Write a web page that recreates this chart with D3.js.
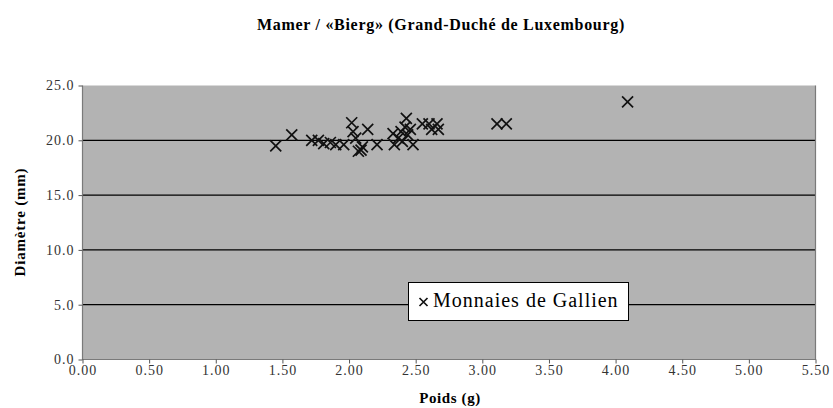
<!DOCTYPE html>
<html>
<head>
<meta charset="utf-8">
<script src="https://cdn.jsdelivr.net/npm/d3@7"></script>
<style>
  body { margin: 0; background: #fff; }
</style>
</head>
<body>
<div id="app"></div>
<script>
// weights (g) and diameters (mm) of the coins
const poids = [1.45, 1.57, 1.72, 1.77, 1.81, 1.86, 1.90, 1.96, 2.02, 2.03, 2.05, 2.07, 2.09, 2.10,
  2.14, 2.21, 2.33, 2.34, 2.37, 2.39, 2.40, 2.42, 2.43, 2.44, 2.46, 2.48, 2.55, 2.60, 2.62, 2.66,
  2.67, 3.11, 3.18, 4.09];
const diametre = [19.5, 20.5, 20.0, 20.0, 19.7, 19.8, 19.6, 19.6, 21.6, 20.8, 20.2, 19.0, 19.1, 19.4,
  21.0, 19.6, 20.6, 19.6, 20.2, 20.8, 19.9, 21.2, 22.0, 20.5, 21.0, 19.6, 21.5, 21.5, 21.0, 21.5,
  21.0, 21.5, 21.5, 23.5];
const xTicks = [0, 0.5, 1, 1.5, 2, 2.5, 3, 3.5, 4, 4.5, 5, 5.5];
const yTicks = [0, 5, 10, 15, 20, 25];
const seriesName = "Monnaies de Gallien";
const title = "Mamer / «Bierg» (Grand-Duché de Luxembourg)";

const W = 833, H = 408;
const pLeft = 82.5, pRight = 815.5, pTop = 85.5, pBottom = 359.5;
const FONT = "'Liberation Serif', 'Times New Roman', serif";

const svg = d3.select("#app").append("svg")
  .attr("width", W)
  .attr("height", H);

const x = d3.scaleLinear([0, 5.5], [pLeft, pRight]);
const y = d3.scaleLinear([0, 25], [pBottom, pTop]);

// plot area
svg.append("rect")
  .attr("x", pLeft).attr("y", pTop)
  .attr("width", pRight - pLeft).attr("height", pBottom - pTop)
  .attr("fill", "#b3b3b3");

// gridlines
svg.append("g").selectAll("line")
  .data(yTicks.filter(d => d > 0 && d < 25))
  .join("line")
  .attr("x1", pLeft).attr("x2", pRight)
  .attr("y1", d => y(d)).attr("y2", d => y(d))
  .attr("stroke", "#000").attr("stroke-width", 1.2);

// plot border (left, right, bottom)
svg.append("path")
  .attr("d", `M${pLeft},${pTop}V${pBottom}H${pRight}V${pTop}`)
  .attr("fill", "none").attr("stroke", "#7a7a7a").attr("stroke-width", 1.2);

// axes
const xAxis = svg.append("g")
  .attr("transform", `translate(0,${pBottom})`)
  .call(d3.axisBottom(x).tickValues(xTicks).tickFormat(d3.format(".2f")).tickSize(4).tickPadding(2));
const yAxis = svg.append("g")
  .attr("transform", `translate(${pLeft},0)`)
  .call(d3.axisLeft(y).tickValues(yTicks).tickFormat(d3.format(".1f")).tickSize(4).tickPadding(4));
[xAxis, yAxis].forEach(a => {
  a.attr("font-family", null).attr("font-size", null);
  a.select(".domain").remove();
  a.selectAll(".tick line").attr("stroke", "#555");
  a.selectAll(".tick text")
    .style("font-family", FONT).style("font-size", "14px")
    .attr("fill", "#333").attr("letter-spacing", 1);
});

// markers
const cross = (cx, cy, r) => `M${cx - r},${cy - r}L${cx + r},${cy + r}M${cx - r},${cy + r}L${cx + r},${cy - r}`;
svg.append("g").selectAll("path")
  .data(poids.map((p, i) => [p, diametre[i]]))
  .join("path")
  .attr("d", d => cross(x(d[0]), y(d[1]), 5.5))
  .attr("stroke", "#111").attr("stroke-width", 1.7).attr("fill", "none");

// titles
svg.append("text")
  .attr("x", 441).attr("y", 30)
  .attr("text-anchor", "middle")
  .style("font-family", FONT)
  .attr("font-size", 16).attr("font-weight", "bold").attr("letter-spacing", 0.7)
  .text(title);
svg.append("text")
  .attr("x", 450).attr("y", 403)
  .attr("text-anchor", "middle")
  .style("font-family", FONT)
  .attr("font-size", 15).attr("font-weight", "bold").attr("letter-spacing", 0.6)
  .text("Poids (g)");
svg.append("text")
  .attr("transform", `translate(25,222) rotate(-90)`)
  .attr("text-anchor", "middle")
  .style("font-family", FONT)
  .attr("font-size", 15).attr("font-weight", "bold").attr("letter-spacing", 0.8)
  .text("Diamètre (mm)");

// legend
const lg = svg.append("g");
lg.append("rect")
  .attr("x", 408.5).attr("y", 282.5).attr("width", 220).attr("height", 38)
  .attr("fill", "#fff").attr("stroke", "#000").attr("stroke-width", 1);
lg.append("path")
  .attr("d", cross(423.5, 302, 4))
  .attr("stroke", "#111").attr("stroke-width", 1.7);
lg.append("text")
  .attr("x", 433).attr("y", 307)
  .style("font-family", FONT)
  .attr("font-size", 20).attr("letter-spacing", 1)
  .text(seriesName);
</script>
</body>
</html>
